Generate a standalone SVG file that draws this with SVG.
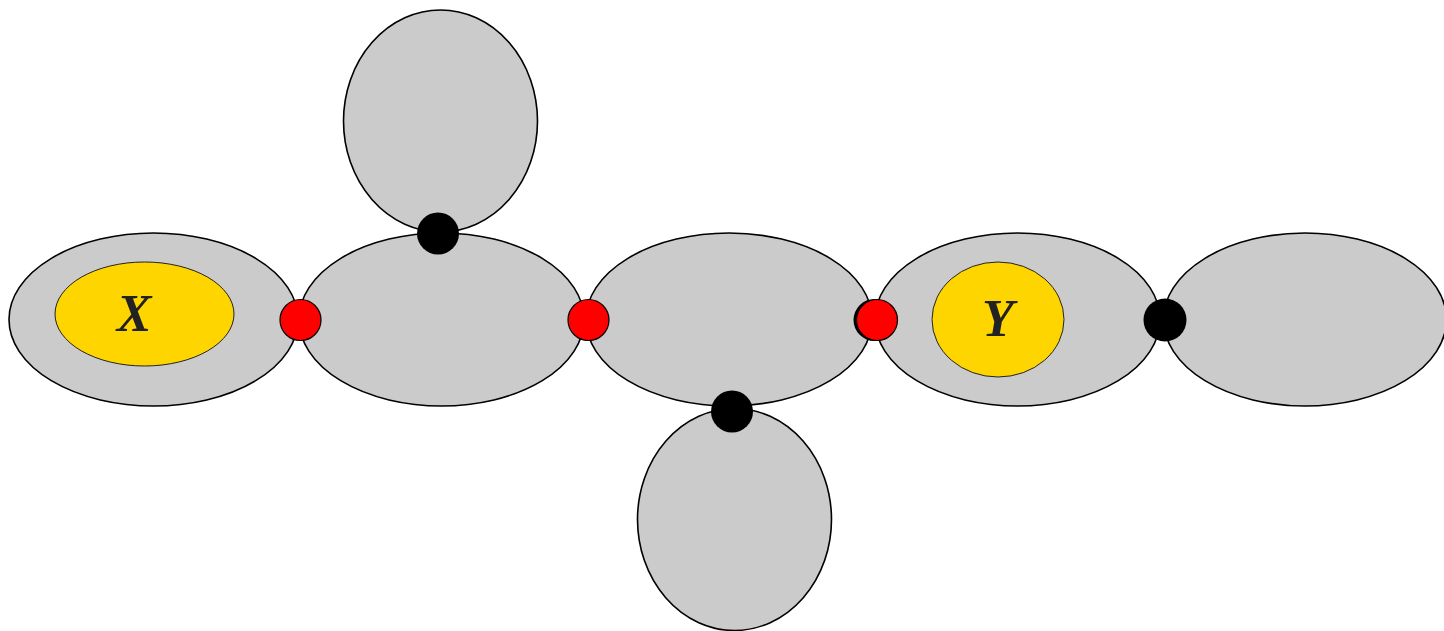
<svg xmlns="http://www.w3.org/2000/svg" width="1444" height="631" viewBox="0 0 1444 631">
<style>
.blob{fill:#cbcbcb;stroke:#000;stroke-width:1.6}
.inner{fill:#ffd500;stroke:#222;stroke-width:1}
.red{fill:#ff0000;stroke:#000;stroke-width:1.2}
.blk{fill:#000}
.lbl{font-family:"Liberation Serif",serif;font-weight:bold;font-style:italic;font-size:52px;fill:#222;text-anchor:middle}
</style>
<rect width="1444" height="631" fill="#fff"/>
<g id="n1"><ellipse class="blob" cx="153.5" cy="319.5" rx="144.5" ry="86.5"/><ellipse class="inner" cx="144.5" cy="314" rx="89.5" ry="52"/><text class="lbl" x="134" y="331">X</text></g>
<g id="n2"><ellipse class="blob" cx="441.5" cy="319.5" rx="142.5" ry="86.5"/></g>
<g id="n3"><ellipse class="blob" cx="729" cy="319.5" rx="143" ry="86.5"/></g>
<g id="n4"><ellipse class="blob" cx="1017.5" cy="319.5" rx="142.5" ry="86.5"/><ellipse class="inner" cx="998" cy="319.5" rx="66" ry="57.5"/><text class="lbl" x="998" y="336">Y</text></g>
<g id="n5"><ellipse class="blob" cx="1305" cy="319.5" rx="141.5" ry="86.5"/></g>
<g id="n6"><ellipse class="blob" cx="440.5" cy="121" rx="97" ry="111"/></g>
<g id="n7"><ellipse class="blob" cx="734.5" cy="519.5" rx="97" ry="111"/></g>
<g id="connectors">
<circle class="red" cx="300.5" cy="320" r="20.5"/>
<circle class="red" cx="588.5" cy="320" r="20.5"/>
<circle class="blk" cx="874.5" cy="320" r="21"/>
<circle class="red" cx="877" cy="320" r="20.5"/>
<circle class="blk" cx="438" cy="233.5" r="21"/>
<circle class="blk" cx="732" cy="411.5" r="21"/>
<circle class="blk" cx="1165" cy="320" r="21.5"/>
</g>
</svg>
